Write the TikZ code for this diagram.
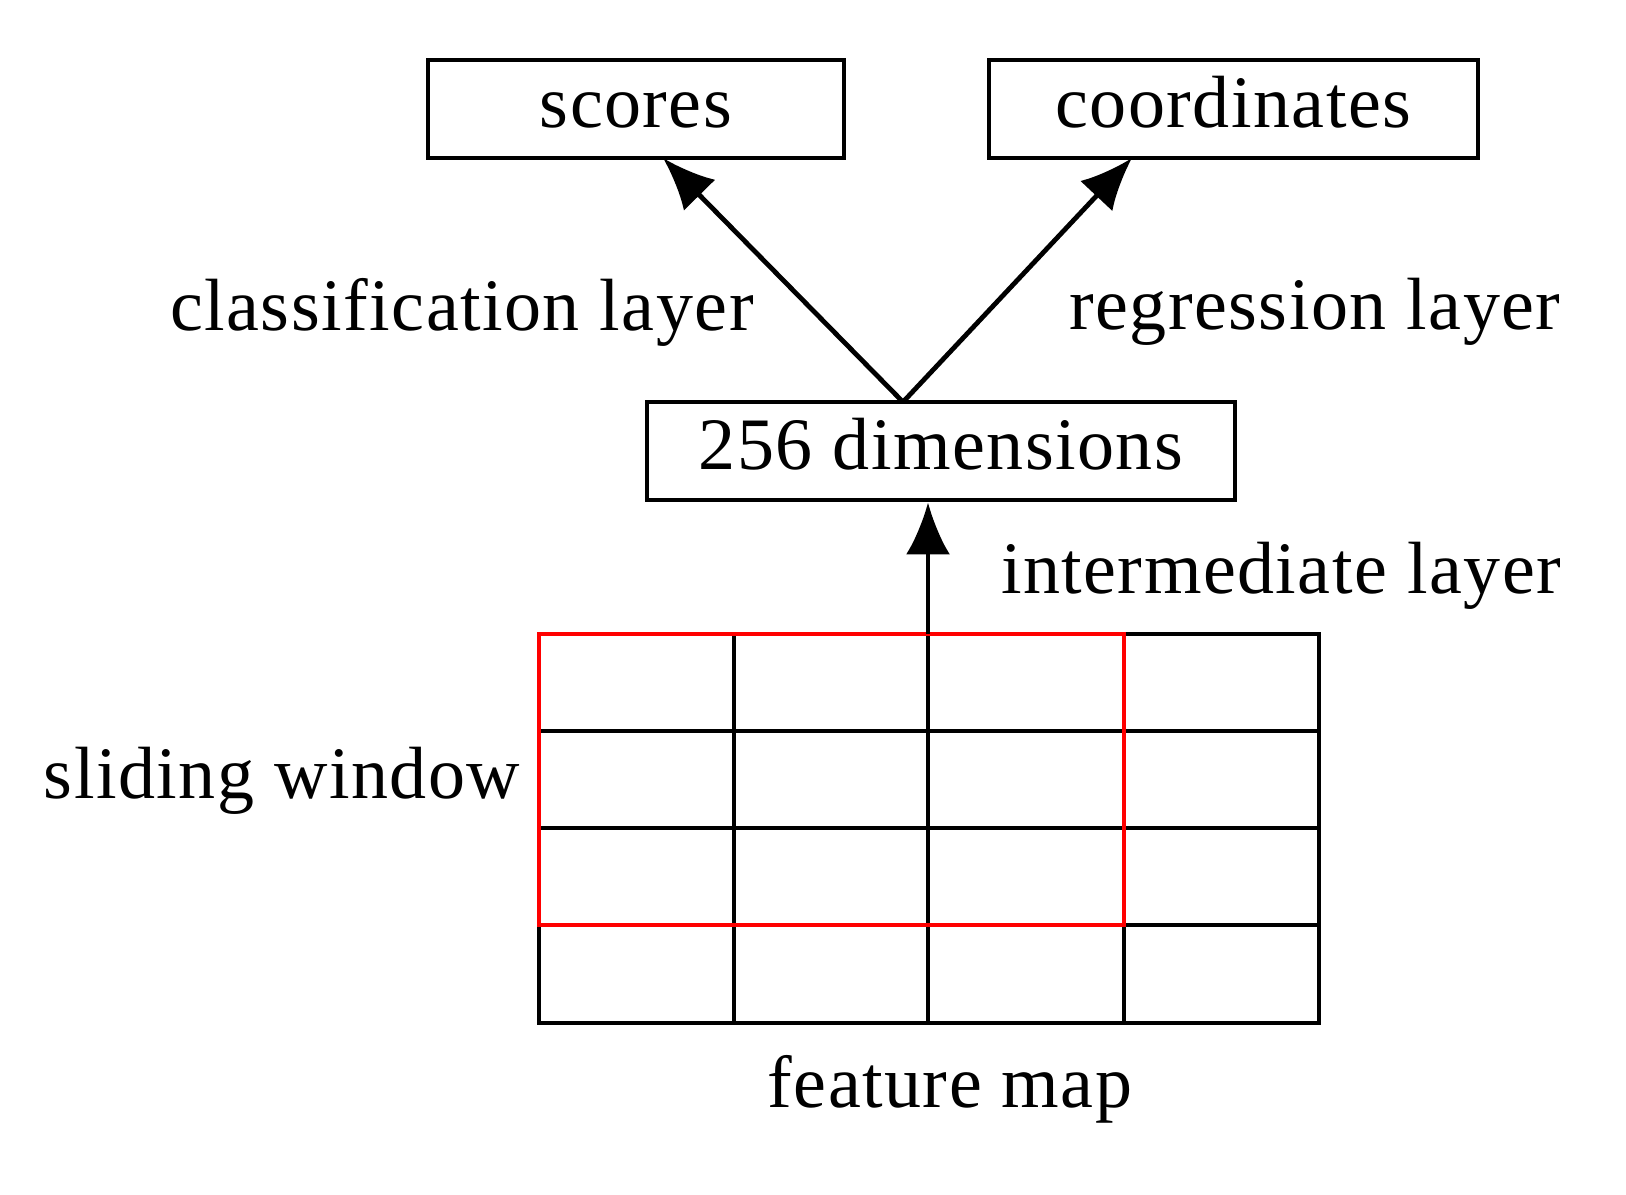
\documentclass[tikz,border=0pt]{standalone}
\usepackage{fontspec}
\setmainfont{Liberation Serif}[LetterSpace=2]
\usetikzlibrary{arrows.meta}
\begin{document}
\begin{tikzpicture}[x=0.5pt,y=-0.5pt,
  box/.style={draw,line width=2.4pt,inner sep=0pt,text height=26pt,text depth=8pt,font=\fontsize{37}{40}\selectfont},
  lab/.style={inner sep=0pt,font=\fontsize{37}{40}\selectfont},
  arr/.style={line width=2.4pt,-{Latex[length=26pt,width=22pt]}},
  grid/.style={line width=2.4pt}]
\useasboundingbox (0,0) rectangle (1626,1194);
\node[box,minimum width=208pt,minimum height=49pt] (sc) at (636,109) {scores};
\node[box,minimum width=244.5pt,minimum height=49pt] (co) at (1233.5,109) {coordinates};
\node[box,minimum width=294pt,minimum height=49pt] (dim) at (941,451) {256 dimensions};
\coordinate (top) at (903,402);
\coordinate (gt) at (928,634);
\draw[grid] (539,634) rectangle (1319,1023);
\foreach \x in {734,928,1124} \draw[grid] (\x,634) -- (\x,1023);
\foreach \y in {731,828,925} \draw[grid] (539,\y) -- (1319,\y);
\draw[red,line width=2.4pt] (539,634) rectangle (1124,925);
\draw[arr] (gt) -- (dim.south -| gt);
\draw[arr] (top) -- (663,158);
\draw[arr] (top) -- (1132,158);
\node[lab] (cl) at (462,312) {classification layer};
\node[lab] (rl) at (1315,312) {regression layer};
\node[lab] (il) at (1281,576) {intermediate layer};
\node[lab] (sw) at (282,781) {sliding window};
\node[lab] (fm) at (950,1089) {feature map};
\end{tikzpicture}
\end{document}
